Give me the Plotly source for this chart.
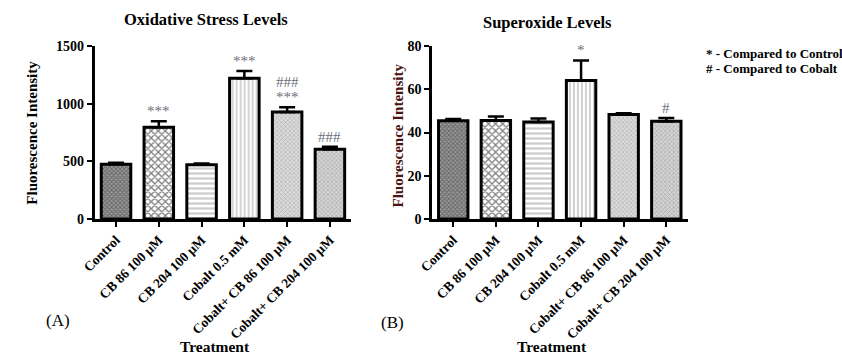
import plotly.graph_objects as go

categories = ["Control", "CB 86 100 μM", "CB 204 100 μM", "Cobalt 0.5 mM",
              "Cobalt+ CB 86 100 μM", "Cobalt+ CB 204 100 μM"]
oxidative_mean = [475, 795, 470, 1220, 928, 605]
oxidative_sem = [12, 52, 12, 63, 40, 22]
superoxide_mean = [45.4, 45.5, 44.8, 64.0, 48.3, 45.2]
superoxide_sem = [0.9, 1.9, 1.7, 9.3, 0.6, 1.5]
oxidative_marks = [[], ["***"], [], ["***"], ["***", "###"], ["###"]]
superoxide_marks = [[], [], [], ["*"], [], ["#"]]

FONT = "Liberation Serif"
patterns = [
    dict(shape="x", size=3, solidity=0.5, fgcolor="#333333", bgcolor="#9a9a9a"),
    dict(shape="x", size=5, solidity=0.45, fgcolor="#000000", bgcolor="#ffffff"),
    dict(shape="-", size=5, solidity=0.45, fgcolor="#9a9a9a", bgcolor="#ffffff"),
    dict(shape="|", size=4, solidity=0.45, fgcolor="#9a9a9a", bgcolor="#ffffff"),
    dict(shape="x", size=3, solidity=0.4, fgcolor="#8a8a8a", bgcolor="#dcdcdc"),
    dict(shape="x", size=3, solidity=0.45, fgcolor="#8a8a8a", bgcolor="#d4d4d4"),
]

fig = go.Figure()

def add_panel(means, sems, xa, ya):
    for i, c in enumerate(categories):
        fig.add_trace(go.Bar(
            x=[c], y=[means[i]], xaxis=xa, yaxis=ya,
            marker=dict(color=patterns[i]["bgcolor"], pattern=patterns[i],
                        line=dict(color="black", width=3)),
            error_y=dict(type="data", array=[sems[i]], arrayminus=[0], symmetric=False,
                         color="black", thickness=2.5, width=8),
            width=0.69, showlegend=False, hoverinfo="skip"))

add_panel(oxidative_mean, oxidative_sem, "x", "y")
add_panel(superoxide_mean, superoxide_sem, "x2", "y2")

axis_common = dict(showline=True, linecolor="black", linewidth=2.5, ticks="outside",
                   ticklen=5, tickwidth=2, tickcolor="black", showgrid=False, zeroline=False)
xfont = dict(family=FONT, size=13.5, color="black", weight="bold")
yfont = dict(family=FONT, size=14, color="black", weight="bold")

fig.update_layout(
    width=842, height=356, margin=dict(l=0, r=0, t=46, b=137),
    paper_bgcolor="white", plot_bgcolor="white",
    barmode="overlay",
    xaxis=dict(domain=[82/842, 343/842], anchor="y", range=[-0.5, 5.5], tickangle=-45,
               categoryorder="array", categoryarray=categories, tickfont=xfont, **axis_common),
    yaxis=dict(domain=[0, 1], anchor="x", range=[0, 1500], tickvals=[0, 500, 1000, 1500],
               tickfont=yfont, **axis_common),
    xaxis2=dict(domain=[425/842, 685/842], anchor="y2", range=[-0.5, 5.5], tickangle=-45,
                categoryorder="array", categoryarray=categories, tickfont=xfont, **axis_common),
    yaxis2=dict(domain=[0, 1], anchor="x2", range=[0, 80], tickvals=[0, 20, 40, 60, 80],
                tickfont=yfont, **axis_common),
)

ann = []
def marks(means, sems, m, xr, yr):
    for i, lst in enumerate(m):
        for j, s in enumerate(lst):
            top = means[i] + sems[i]
            ann.append(dict(x=categories[i], y=top, xref=xr, yref=yr, text=s,
                            showarrow=False, yanchor="bottom", yshift=j * 15,
                            font=dict(family=FONT, size=15, color="#6b6f7a")))

marks(oxidative_mean, oxidative_sem, oxidative_marks, "x", "y")
marks(superoxide_mean, superoxide_sem, superoxide_marks, "x2", "y2")

def ptxt(x, y, t, size, color="black", bold=True, angle=0, xanchor="center"):
    yp = (219 - y) / 173
    ann.append(dict(x=x / 842, y=yp, xref="paper", yref="paper", text=t,
                    showarrow=False, textangle=angle, xanchor=xanchor, yanchor="middle",
                    font=dict(family=FONT, size=size, color=color,
                              weight="bold" if bold else "normal")))

ptxt(195, 20, "Oxidative Stress Levels", 16.5)
ptxt(543, 22, "Superoxide Levels", 16.5)
ptxt(18, 133, "Fluorescence Intensity", 15, angle=-90)
ptxt(390, 136, "Fluorescence Intensity", 15, color="#4a1212", angle=-90)
ptxt(204, 346, "Treatment", 15.5)
ptxt(547, 346, "Treatment", 15.5)
ptxt(45, 320, "(A)", 17, bold=False)
ptxt(385, 322, "(B)", 17, bold=False)
ptxt(702, 53, "* - Compared to Control", 13, xanchor="left")
ptxt(702, 68, "# - Compared to Cobalt", 13, xanchor="left")

fig.update_layout(annotations=ann)
fig.write_html("out.html")
